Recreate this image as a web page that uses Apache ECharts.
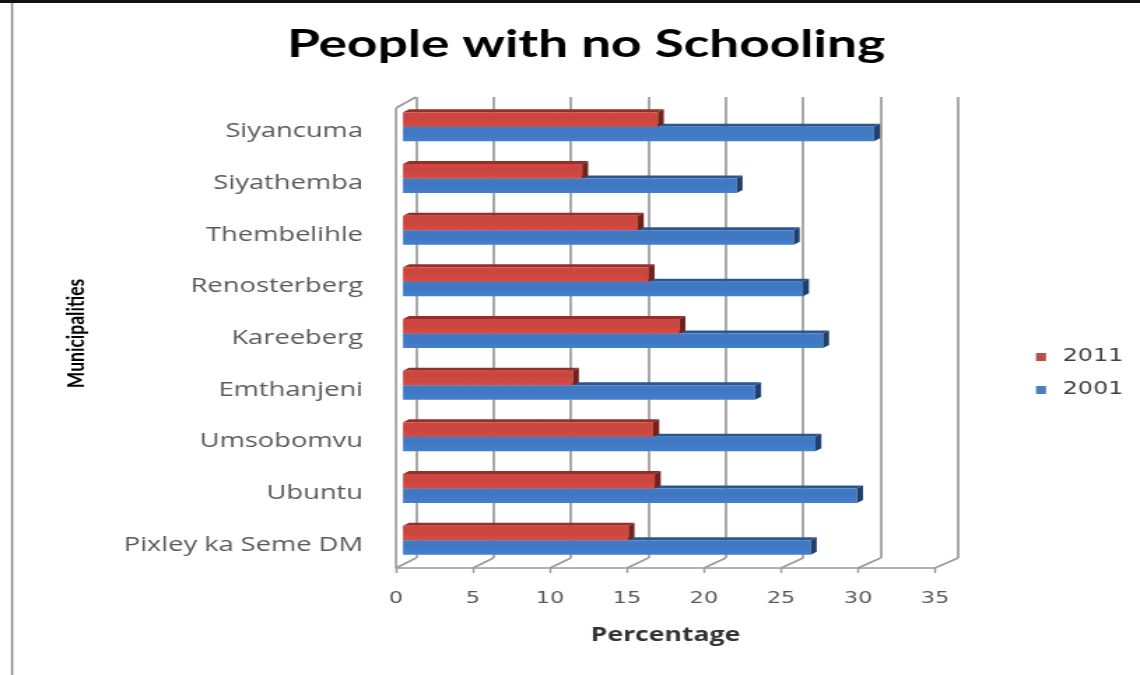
<!DOCTYPE html>
<html>
<head>
<meta charset="utf-8">
<title>People with no Schooling</title>
<script src="https://cdn.jsdelivr.net/npm/echarts@6/dist/echarts.min.js"></script>
<style>
  html, body { margin: 0; padding: 0; background: #fff; }
  #wrap { width: 1140px; height: 675px; overflow: hidden; position: relative; background: #fff; }
  /* the chart is laid out narrow and widened, giving the broad lettering of the original figure */
  #chart { width: 815px; height: 675px; transform-origin: 0 0; }
</style>
</head>
<body>
<div id="wrap"><div id="chart"></div></div>
<script>
// ---- data -------------------------------------------------------------
const categories = ['Siyancuma', 'Siyathemba', 'Thembelihle', 'Renosterberg', 'Kareeberg',
                    'Emthanjeni', 'Umsobomvu', 'Ubuntu', 'Pixley ka Seme DM'];
const values2011 = [16.5, 11.6, 15.2, 15.9, 17.9, 11.0, 16.2, 16.3, 14.6];
const values2001 = [30.5, 21.6, 25.3, 25.9, 27.2, 22.8, 26.7, 29.4, 26.4];
const seriesNames = ['2011', '2001'];
const xTicks = [0, 5, 10, 15, 20, 25, 30, 35];
const chartTitle = 'People with no Schooling';
const xTitle = 'Percentage';
const yTitle = 'Municipalities';

// ---- layout -----------------------------------------------------------
const SX = 1140 / 815;              // horizontal widening of the drawing
const px = v => v / SX;             // page x -> chart x
const X_MIN = xTicks[0], X_MAX = xTicks[xTicks.length - 1], X_STEP = xTicks[1] - xTicks[0];

const FLOOR_FRONT_Y = 568, FLOOR_BACK_Y = 558;
const WALL_TOP_BACK = 97, WALL_TOP_FRONT = 108;
const BAR_H = 14.5;                 // face height of one bar
const DEPTH_X = px(6), DEPTH_Y = 3; // visible bar depth

const el = document.getElementById('chart');
el.style.transform = 'scaleX(' + SX + ')';
const chart = echarts.init(el, null, { renderer: 'canvas' });

const palette = {
  '2011': { face: '#c8463e', top: '#962e29', cap: '#74201c', legend: '#be4b48' },
  '2001': { face: '#3f77c0', top: '#2b5791', cap: '#1f406e', legend: '#4a7ebb' }
};

// a bar with a front face, a thin top face and a dark end cap
function bar3d(name, above) {
  const c = palette[name];
  return function (params, api) {
    const idx = api.value(1);
    const p0 = api.coord([0, idx]);
    const p1 = api.coord([api.value(0), idx]);
    const x0 = p0[0], x1 = p1[0];
    const y = above ? p0[1] - BAR_H : p0[1];
    const h = BAR_H;
    return {
      type: 'group',
      children: [
        { type: 'polygon', shape: { points: [[x0, y], [x0 + DEPTH_X, y - DEPTH_Y], [x1 + DEPTH_X, y - DEPTH_Y], [x1, y]] },
          style: { fill: c.top } },
        { type: 'rect', shape: { x: x0, y: y, width: x1 - x0, height: h },
          style: { fill: new echarts.graphic.LinearGradient(0, 0, 0, 1, [
            { offset: 0, color: echarts.color.lift(c.face, -0.04) },
            { offset: 0.4, color: c.face },
            { offset: 1, color: echarts.color.lift(c.face, -0.08) }]) } },
        { type: 'polygon', shape: { points: [[x1, y], [x1 + DEPTH_X, y - DEPTH_Y], [x1 + DEPTH_X, y + h - DEPTH_Y], [x1, y + h]] },
          style: { fill: c.cap } }
      ]
    };
  };
}

const fontLabel = 'Open Sans';
const fontDigits = 'DejaVu Sans';
const option = {
  backgroundColor: '#ffffff',
  animation: false,
  title: {
    text: chartTitle,
    left: px(579), top: 21, textAlign: 'center',
    textStyle: { fontFamily: 'Lato', fontWeight: 'bold', fontSize: 38, color: '#000000' }
  },
  legend: {
    orient: 'vertical',
    left: px(1036), top: 348, padding: 0,
    itemWidth: px(10), itemHeight: 8, itemGap: 15,
    data: seriesNames.map(n => ({ name: n, icon: 'rect', itemStyle: { color: palette[n].legend } })),
    textStyle: { fontFamily: fontDigits, fontSize: 17, lineHeight: 18, color: '#404040', padding: [0, 0, 0, 7] }
  },
  grid: [
    // bars
    { left: px(403), width: px(540.5), top: 101, height: 465 },
    // back wall (grid lines)
    { left: px(416), width: px(542), top: WALL_TOP_BACK, height: FLOOR_BACK_Y - WALL_TOP_BACK },
    // floor front edge (axis labels)
    { left: px(396), width: px(539), top: WALL_TOP_BACK, height: FLOOR_FRONT_Y - WALL_TOP_BACK }
  ],
  xAxis: [
    { gridIndex: 0, type: 'value', min: X_MIN, max: X_MAX, interval: X_STEP, show: false },
    { gridIndex: 1, type: 'value', min: X_MIN, max: X_MAX, interval: X_STEP,
      axisLine: { show: false }, axisTick: { show: false }, axisLabel: { show: false },
      splitLine: { show: true, showMinLine: true, showMaxLine: true, lineStyle: { color: '#949494', width: 1.6 } } },
    { gridIndex: 2, type: 'value', min: X_MIN, max: X_MAX, interval: X_STEP,
      axisLine: { show: true, lineStyle: { color: '#9a9a9a', width: 1.6 } },
      axisTick: { show: true, length: 5, lineStyle: { color: '#9a9a9a', width: 1.4 } },
      splitLine: { show: false },
      axisLabel: { margin: 23, fontFamily: fontDigits, fontSize: 16, color: '#595959' },
      name: xTitle, nameLocation: 'middle', nameGap: 58,
      nameTextStyle: { fontFamily: fontLabel, fontWeight: 'bold', fontSize: 19, color: '#333333' } }
  ],
  yAxis: [
    { gridIndex: 0, type: 'category', data: categories, inverse: true,
      axisLine: { show: false }, axisTick: { show: false }, splitLine: { show: false },
      axisLabel: { margin: px(40), fontFamily: fontLabel, fontSize: 19.5, color: '#595959',
                   verticalAlign: 'top', lineHeight: 10 },
      name: yTitle, nameLocation: 'middle', nameRotate: 90, nameGap: px(315),
      nameTextStyle: { fontFamily: 'Lato', fontWeight: 'bold', fontSize: 17.5, color: '#000000' } },
    { gridIndex: 1, type: 'value', show: false },
    { gridIndex: 2, type: 'value', show: false }
  ],
  series: [
    { name: '2001', type: 'custom', xAxisIndex: 0, yAxisIndex: 0,
      itemStyle: { color: palette['2001'].legend },
      encode: { x: 0, y: 1 },
      data: values2001.map((v, i) => [v, i]),
      renderItem: bar3d('2001', false) },
    { name: '2011', type: 'custom', xAxisIndex: 0, yAxisIndex: 0,
      itemStyle: { color: palette['2011'].legend },
      encode: { x: 0, y: 1 },
      data: values2011.map((v, i) => [v, i]),
      renderItem: bar3d('2011', true) }
  ]
};
chart.setOption(option);

// side wall, floor depth lines and the frame, placed from the axis scales
const frontX = v => chart.convertToPixel({ xAxisIndex: 2 }, v);
const backX = v => chart.convertToPixel({ xAxisIndex: 1 }, v);
const lineStyle = { stroke: '#9a9a9a', lineWidth: 1.6 };
const deco = [];
xTicks.forEach(t => {
  deco.push({ type: 'line', silent: true, z: 1,
    shape: { x1: frontX(t), y1: FLOOR_FRONT_Y, x2: backX(t), y2: FLOOR_BACK_Y }, style: lineStyle });
});
deco.push({ type: 'line', silent: true, z: 1,
  shape: { x1: frontX(X_MIN), y1: WALL_TOP_FRONT, x2: frontX(X_MIN), y2: FLOOR_FRONT_Y }, style: lineStyle });
deco.push({ type: 'line', silent: true, z: 1,
  shape: { x1: frontX(X_MIN), y1: WALL_TOP_FRONT, x2: backX(X_MIN), y2: WALL_TOP_BACK }, style: lineStyle });
// frame
deco.push({ type: 'rect', silent: true, z: 10, shape: { x: 0, y: 0, width: 815, height: 3 }, style: { fill: '#111111' } });
deco.push({ type: 'line', silent: true, z: 10, shape: { x1: px(12), y1: 3, x2: px(12), y2: 675 },
  style: { stroke: '#8c8c8c', lineWidth: 1.5 } });
chart.setOption({ graphic: deco });
</script>
</body>
</html>
